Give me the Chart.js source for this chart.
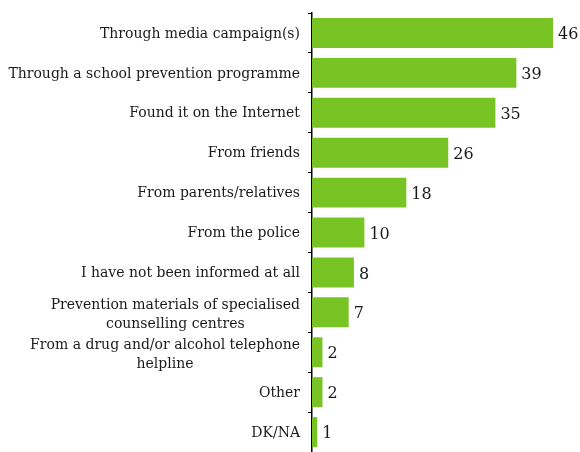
<!DOCTYPE html>
<html lang="en">
<head>
  <meta charset="UTF-8" />
  <title>Sources of information</title>
  <script src="https://cdn.jsdelivr.net/npm/chart.js"></script>
  <style>
    html, body { margin: 0; padding: 0; background: #fff; }
    #wrap { width: 580px; height: 452px; }
  </style>
</head>
<body>
  <div id="wrap"><canvas id="chart"></canvas></div>

  <script>
    const categories = [
      ['Through media campaign(s)'],
      ['Through a school prevention programme'],
      ['Found it on the Internet'],
      ['From friends'],
      ['From parents/relatives'],
      ['From the police'],
      ['I have not been informed at all'],
      ['Prevention materials of specialised', 'counselling centres'],
      ['From a drug and/or alcohol telephone', 'helpline'],
      ['Other'],
      ['DK/NA']
    ];
    const values = [46, 39, 35, 26, 18, 10, 8, 7, 2, 2, 1];

    const labelFont = '14px "DejaVu Serif", serif';
    const valueFont = '16px "DejaVu Serif", serif';

    // category names: right-aligned block, lines centred inside it
    const categoryLabels = {
      id: 'categoryLabels',
      afterDraw(chart) {
        const ctx = chart.ctx;
        const y = chart.scales.y;
        ctx.save();
        ctx.font = labelFont;
        ctx.fillStyle = '#1a1a1a';
        ctx.textBaseline = 'middle';
        ctx.textAlign = 'center';
        const right = y.right - 12;
        const lineH = 19;
        categories.forEach((lines, i) => {
          const cy = y.getPixelForTick(i) + (lines.length > 1 ? 3 : 1);
          const w = Math.max(...lines.map(l => ctx.measureText(l).width));
          const cx = right - w / 2;
          const top = cy - (lines.length - 1) * lineH / 2;
          lines.forEach((l, j) => ctx.fillText(l, cx, top + j * lineH));
        });
        ctx.restore();
      }
    };

    // value printed just past the end of each bar
    const valueLabels = {
      id: 'valueLabels',
      afterDatasetsDraw(chart) {
        const ctx = chart.ctx;
        const meta = chart.getDatasetMeta(0);
        ctx.save();
        ctx.font = valueFont;
        ctx.fillStyle = '#1a1a1a';
        ctx.textBaseline = 'middle';
        ctx.textAlign = 'left';
        meta.data.forEach((bar, i) => {
          ctx.fillText(String(values[i]), bar.x + 5, bar.y + 2);
        });
        ctx.restore();
      }
    };

    new Chart(document.getElementById('chart'), {
      type: 'bar',
      data: {
        labels: categories.map(c => c.join(' ')),
        datasets: [{
          data: values,
          backgroundColor: '#79c425',
          barPercentage: 0.75,
          categoryPercentage: 1
        }]
      },
      options: {
        indexAxis: 'y',
        responsive: true,
        maintainAspectRatio: false,
        animation: false,
        layout: { padding: { top: 13, right: 6, bottom: 0, left: 0 } },
        plugins: {
          legend: { display: false },
          tooltip: { enabled: false }
        },
        scales: {
          x: {
            min: 0,
            max: 50,
            display: false
          },
          y: {
            afterFit(scale) { scale.width = 312; },
            grid: {
              offset: true,
              drawOnChartArea: false,
              drawTicks: true,
              tickLength: 4,
              color: '#000',
              lineWidth: 1
            },
            border: { display: true, color: '#000', width: 1.5 },
            ticks: { display: false }
          }
        }
      },
      plugins: [categoryLabels, valueLabels]
    });
  </script>
</body>
</html>
